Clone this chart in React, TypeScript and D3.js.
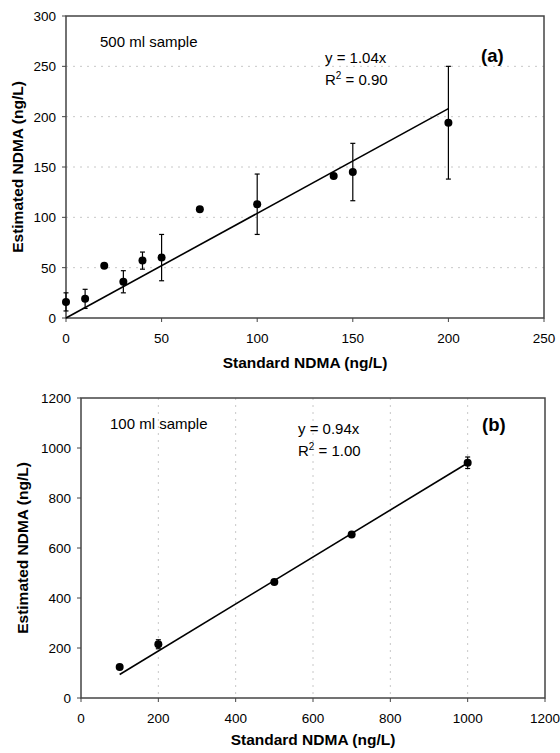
import React from 'react';
import * as d3 from 'd3';

// panel (a): 500 ml sample
const stdA = [0, 10, 20, 30, 40, 50, 70, 100, 140, 150, 200];
const estA = [16, 19, 52, 36, 57, 60, 108, 113, 141, 145, 194];
const errA = [9, 9.5, 0, 11, 8.5, 23, 0, 30, 0, 28.5, 56];
const xTicksA = [0, 50, 100, 150, 200, 250];
const yTicksA = [0, 50, 100, 150, 200, 250, 300];
const fitA = [0, 200];
const slopeA = 1.04;

// panel (b): 100 ml sample
const stdB = [100, 200, 500, 700, 1000];
const estB = [124, 215, 464, 654, 941];
const errB = [0, 18, 0, 0, 23];
const xTicksB = [0, 200, 400, 600, 800, 1000, 1200];
const yTicksB = [0, 200, 400, 600, 800, 1000, 1200];
const fitB = [100, 1000];
const slopeB = 0.94;

const font = '"Liberation Sans", Arial, sans-serif';

type PanelProps = {
    top: number;
    left: number;
    right: number;
    bottom: number;
    xs: number[];
    ys: number[];
    errs: number[];
    xTicks: number[];
    yTicks: number[];
    fit: number[];
    slope: number;
    grid: 'x' | 'y';
    sample: string;
    eq: string;
    r2: string;
    tag: string;
    sampleX: number;
    eqX: number;
    eqY: number;
    tagX: number;
    tagY: number;
    yTitleX: number;
    xTitleDy: number;
};

function Panel(p: PanelProps) {
    const x = d3.scaleLinear()
        .domain([p.xTicks[0], p.xTicks[p.xTicks.length - 1]])
        .range([p.left, p.right]);
    const y = d3.scaleLinear()
        .domain([p.yTicks[0], p.yTicks[p.yTicks.length - 1]])
        .range([p.bottom, p.top]);

    const line = d3.line<number>()
        .x(d => x(d))
        .y(d => y(d * p.slope));

    return (
        <g>
            {p.grid === 'y' && p.yTicks.slice(1, -1).map(t => (
                <line key={'gy' + t} x1={p.left} x2={p.right} y1={y(t)} y2={y(t)}
                    stroke="#c8c8c8" strokeWidth={1} strokeDasharray="2,5" />
            ))}
            {p.grid === 'x' && p.xTicks.slice(1, -1).map(t => (
                <line key={'gx' + t} x1={x(t)} x2={x(t)} y1={p.top} y2={p.bottom}
                    stroke="#c8c8c8" strokeWidth={1} strokeDasharray="2,5" />
            ))}

            <rect x={p.left} y={p.top} width={p.right - p.left} height={p.bottom - p.top}
                fill="none" stroke="#444" strokeWidth={1.5} />

            {p.yTicks.map(t => (
                <g key={'ty' + t}>
                    <line x1={p.left - 4} x2={p.left} y1={y(t)} y2={y(t)} stroke="#444" />
                    <text x={p.left - 10} y={y(t) + 5} textAnchor="end" fontSize={13.5}
                        fontFamily={font}>{t}</text>
                </g>
            ))}
            {p.xTicks.map(t => (
                <g key={'tx' + t}>
                    <line x1={x(t)} x2={x(t)} y1={p.bottom} y2={p.bottom + 4} stroke="#444" />
                    <text x={x(t)} y={p.bottom + 25} textAnchor="middle" fontSize={13.5}
                        fontFamily={font}>{t}</text>
                </g>
            ))}

            <path d={line(p.fit) || ''} fill="none" stroke="#000" strokeWidth={1.6} />

            {p.xs.map((d, i) => p.errs[i] > 0 && (
                <g key={'e' + i} stroke="#000" strokeWidth={1.2}>
                    <line x1={x(d)} x2={x(d)} y1={y(p.ys[i] + p.errs[i])} y2={y(p.ys[i] - p.errs[i])} />
                    <line x1={x(d) - 2.5} x2={x(d) + 2.5} y1={y(p.ys[i] + p.errs[i])} y2={y(p.ys[i] + p.errs[i])} />
                    <line x1={x(d) - 2.5} x2={x(d) + 2.5} y1={y(p.ys[i] - p.errs[i])} y2={y(p.ys[i] - p.errs[i])} />
                </g>
            ))}
            {p.xs.map((d, i) => (
                <circle key={'c' + i} cx={x(d)} cy={y(p.ys[i])} r={4} fill="#000" />
            ))}

            <text x={p.sampleX} y={p.top + 31} fontSize={15} fontFamily={font}>{p.sample}</text>
            <text x={p.eqX} y={p.eqY} fontSize={15} fontFamily={font}>{p.eq}</text>
            <text x={p.eqX} y={p.eqY + 22} fontSize={15} fontFamily={font}>
                R<tspan dy={-6} fontSize={10}>2</tspan><tspan dy={6}> = {p.r2}</tspan>
            </text>
            <text x={p.tagX} y={p.tagY} fontSize={18.5} fontWeight="bold" fontFamily={font}>{p.tag}</text>

            <text x={(p.left + p.right) / 2} y={p.bottom + p.xTitleDy} textAnchor="middle" fontSize={15.5}
                fontWeight="bold" fontFamily={font}>Standard NDMA (ng/L)</text>
            <text transform={`translate(${p.yTitleX},${(p.top + p.bottom) / 2}) rotate(-90)`}
                textAnchor="middle" fontSize={15.5} fontWeight="bold" fontFamily={font}>
                Estimated NDMA (ng/L)
            </text>
        </g>
    );
}

export default function App() {
    return (
        <svg width={560} height={753} style={{display: 'block', position: 'absolute', left: 0, top: 0}}>
            <rect width={560} height={753} fill="#fff" />
            <Panel top={16} left={66} right={544} bottom={318}
                xs={stdA} ys={estA} errs={errA} xTicks={xTicksA} yTicks={yTicksA}
                fit={fitA} slope={slopeA} grid="y"
                sample="500 ml sample" eq="y = 1.04x" r2="0.90" tag="(a)"
                sampleX={100} eqX={325} eqY={63} tagX={481} tagY={62} yTitleX={23} xTitleDy={50} />
            <Panel top={398} left={81} right={545} bottom={698}
                xs={stdB} ys={estB} errs={errB} xTicks={xTicksB} yTicks={yTicksB}
                fit={fitB} slope={slopeB} grid="x"
                sample="100 ml sample" eq="y = 0.94x" r2="1.00" tag="(b)"
                sampleX={110} eqX={298} eqY={434} tagX={482} tagY={431} yTitleX={28} xTitleDy={47} />
        </svg>
    );
}
